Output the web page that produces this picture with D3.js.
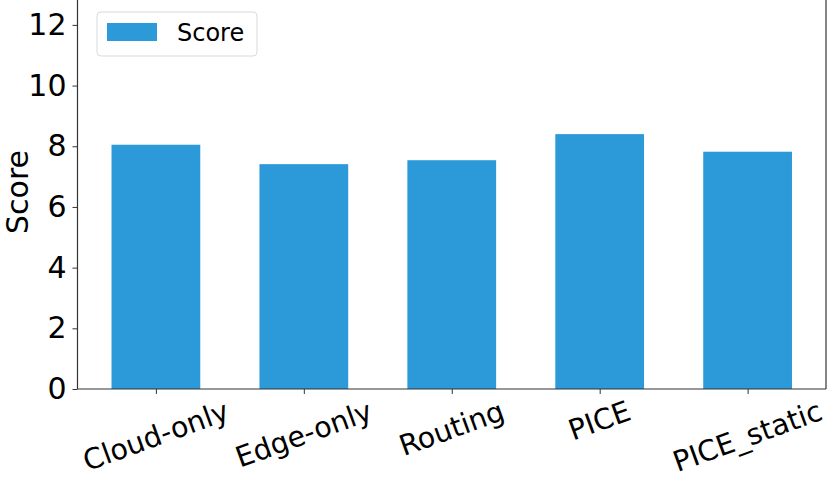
<!DOCTYPE html>
<html>
<head>
<meta charset="utf-8">
<script src="https://cdn.jsdelivr.net/npm/d3@7"></script>
<style>
  body { margin: 0; background: #fff; }
  svg { display: block; font-family: "DejaVu Sans", sans-serif; }
</style>
</head>
<body>
<div id="chart"></div>
<script>
var categories = ["Cloud-only", "Edge-only", "Routing", "PICE", "PICE_static"];
var scores = [8.05, 7.41, 7.54, 8.40, 7.82];
var yTicks = [0, 2, 4, 6, 8, 10, 12];
var seriesName = "Score";

var W = 830, H = 480;
var left = 77.5, right = 826, bottom = 389;

var svg = d3.select("#chart").append("svg")
    .attr("width", W)
    .attr("height", H);

// bars sit at 0..n-1, width 0.6, matplotlib-ish margins
var x = d3.scaleLinear()
    .domain([-0.53, categories.length - 1 + 0.53])
    .range([left, right]);

var y = d3.scaleLinear()
    .domain([0, 12.82])
    .range([bottom, 0]);

var barW = 0.6;

svg.selectAll("rect.bar")
  .data(scores)
  .enter().append("rect")
    .attr("class", "bar")
    .attr("x", function(d, i) { return x(i - barW / 2); })
    .attr("width", function() { return x(barW) - x(0); })
    .attr("y", function(d) { return y(d); })
    .attr("height", function(d) { return y(0) - y(d); })
    .attr("fill", "#2c9ad9");

// y axis
var yAxis = svg.append("g")
    .attr("transform", "translate(" + left + ",0)")
    .call(d3.axisLeft(y).tickValues(yTicks).tickSize(5).tickPadding(6).tickFormat(d3.format("d")));
yAxis.select(".domain").remove();
yAxis.selectAll("line").attr("stroke", "#333");
yAxis.selectAll("text")
    .attr("font-size", 30)
    .attr("fill", "#000")
    .attr("font-family", "DejaVu Sans");

// x ticks
var xAxis = svg.append("g")
    .attr("transform", "translate(0," + bottom + ")")
    .call(d3.axisBottom(x).tickValues(d3.range(categories.length)).tickSize(5).tickFormat(""));
xAxis.select(".domain").remove();
xAxis.selectAll("line").attr("stroke", "#333");

// rotated category labels, centered under the tick (like rotation=20)
var fs = 28.5, rot = 20 * Math.PI / 180;
svg.selectAll("text.xlab")
  .data(categories)
  .enter().append("text")
    .attr("class", "xlab")
    .attr("font-size", fs)
    .attr("text-anchor", "middle")
    .attr("dominant-baseline", "central")
    .text(function(d) { return d; })
    .each(function(d, i) {
      var L = this.getComputedTextLength();
      var h = L * Math.sin(rot) + fs * 1.05 * Math.cos(rot);
      var cx = x(i), cy = bottom + 7 + h / 2;
      d3.select(this)
        .attr("x", cx).attr("y", cy)
        .attr("transform", "rotate(-20," + cx + "," + cy + ")");
    });

// spines
svg.append("line").attr("x1", left).attr("x2", left).attr("y1", 0).attr("y2", bottom)
    .attr("stroke", "#333").attr("stroke-width", 1.2);
svg.append("line").attr("x1", right).attr("x2", right).attr("y1", 0).attr("y2", bottom)
    .attr("stroke", "#333").attr("stroke-width", 1.2);
svg.append("line").attr("x1", left).attr("x2", right).attr("y1", bottom).attr("y2", bottom)
    .attr("stroke", "#333").attr("stroke-width", 1.2);

// y label
svg.append("text")
    .attr("transform", "translate(28,192) rotate(-90)")
    .attr("text-anchor", "middle")
    .attr("font-size", 30)
    .text("Score");

// legend
var lg = svg.append("g").attr("transform", "translate(97,12)");
lg.append("rect")
    .attr("width", 160).attr("height", 44)
    .attr("rx", 4)
    .attr("fill", "#fff")
    .attr("stroke", "#d9d9d9");
lg.append("rect")
    .attr("x", 10).attr("y", 11)
    .attr("width", 50).attr("height", 18)
    .attr("fill", "#2c9ad9");
lg.append("text")
    .attr("x", 80).attr("y", 29)
    .attr("font-size", 24)
    .text(seriesName);
</script>
</body>
</html>
